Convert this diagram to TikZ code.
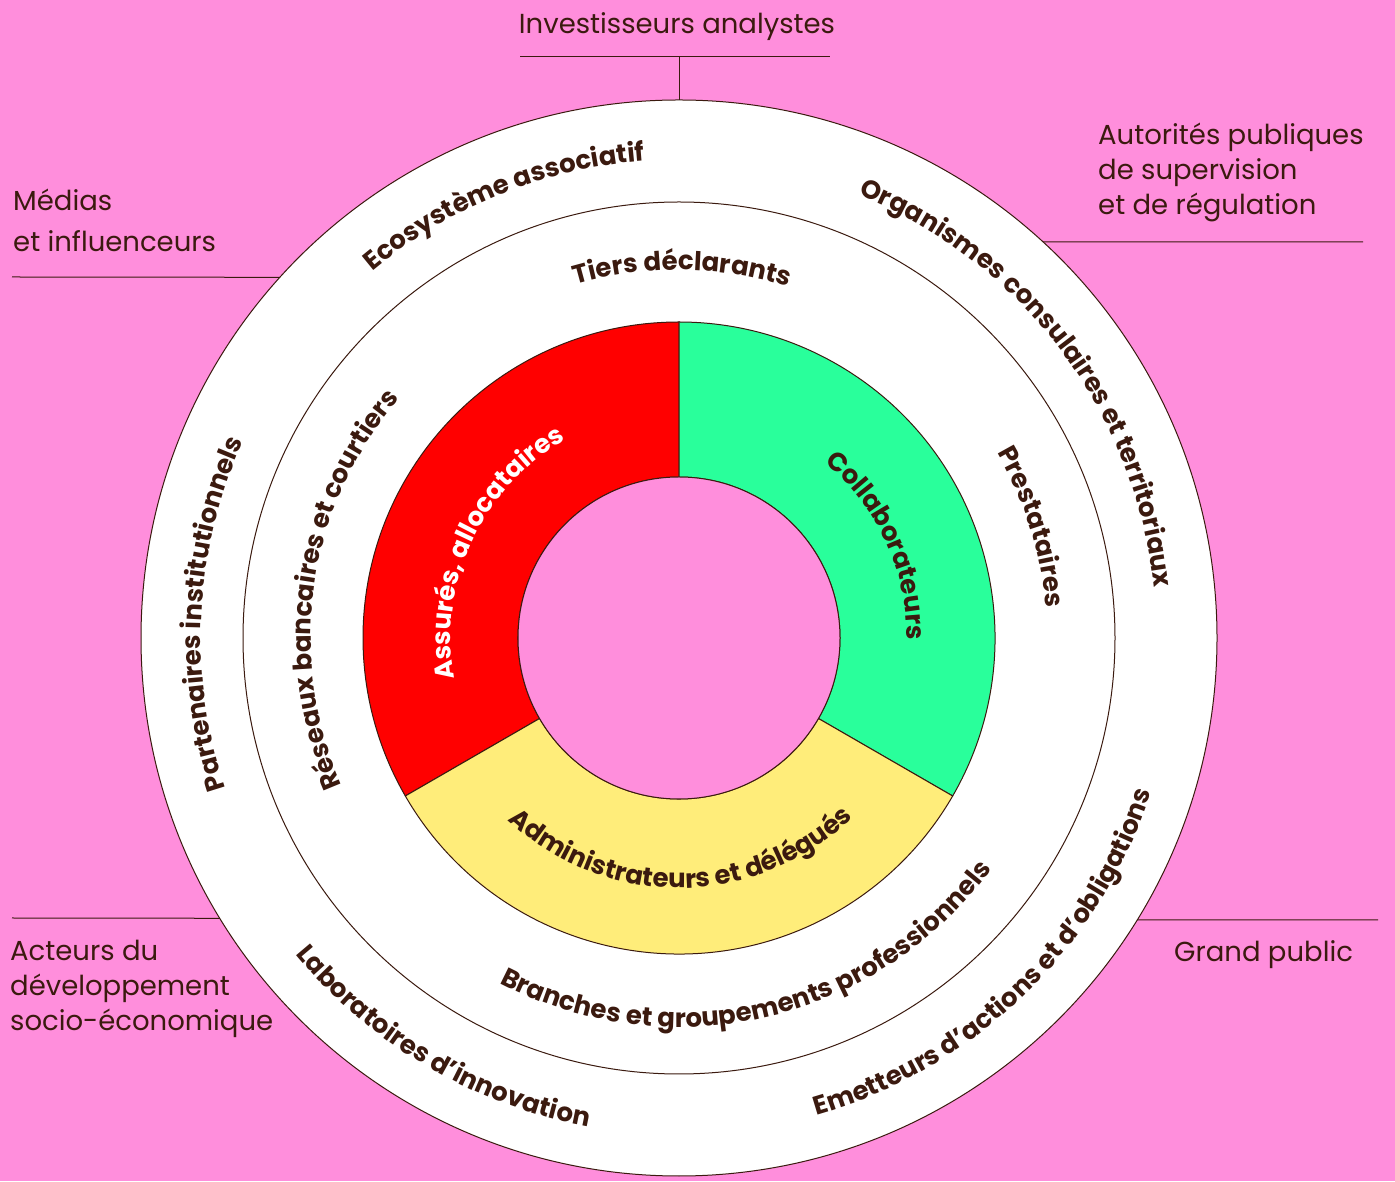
\documentclass[tikz,border=0pt]{standalone}
\usepackage{fontspec}
\setmainfont{Poppins}
\usetikzlibrary{decorations.text}

\definecolor{pinkbg}{RGB}{255,142,220}
\definecolor{ink}{RGB}{59,26,15}
\definecolor{redsec}{RGB}{255,0,0}
\definecolor{greensec}{RGB}{41,255,155}
\definecolor{yellowsec}{RGB}{255,237,122}

\newcommand\ringfont{\fontsize{26}{26}\selectfont\bfseries}

\tikzset{
  ring line/.style={draw=ink, line width=1pt},
  side label/.style={anchor=base west, inner sep=0pt, text=ink, align=left,
    font=\fontsize{27.5}{35}\selectfont},
  ringtext/.style={decorate, decoration={text along path, text align=center,
    text color=ink, text={|\ringfont|#1}}},
  whitetext/.style={decorate, decoration={text along path, text align=center,
    text color=white, text={|\ringfont|#1}}}
}

\begin{document}
\begin{tikzpicture}[x=1pt,y=1pt]
  \useasboundingbox (0,0) rectangle (1395,1181);
  \fill[pinkbg] (0,0) rectangle (1395,1181);
  \coordinate (c) at (679,543);

  % rings
  \draw[ring line, fill=white] (c) circle[radius=538];
  \draw[ring line] (c) circle[radius=436];

  \draw[ring line, fill=redsec] (c) ++(90:316) arc[start angle=90, end angle=210, radius=316]
    -- ++(30:155) arc[start angle=210, end angle=90, radius=161] -- cycle;
  \draw[ring line, fill=greensec] (c) ++(-30:316) arc[start angle=-30, end angle=90, radius=316]
    -- ++(270:155) arc[start angle=90, end angle=-30, radius=161] -- cycle;
  \draw[ring line, fill=yellowsec] (c) ++(210:316) arc[start angle=210, end angle=330, radius=316]
    -- ++(150:155) arc[start angle=330, end angle=210, radius=161] -- cycle;
  \draw[ring line, fill=pinkbg] (c) circle[radius=161];

  % outer ring texts
  \path[ringtext={Ecosystème associatif}] (c) ++(182:478) arc[start angle=182, end angle=42, radius=478];
  \path[ringtext={Organismes consulaires et territoriaux}] (c) ++(107:478) arc[start angle=107, end angle=-33, radius=478];
  \path[ringtext={Partenaires institutionnels}] (c) ++(247:478) arc[start angle=247, end angle=107, radius=478];
  \path[ringtext={Laboratoires d’innovation}] (c) ++(169.5:497) arc[start angle=169.5, end angle=309.5, radius=497];
  \path[ringtext={Emetteurs d’actions et d’obligations}] (c) ++(244:497) arc[start angle=244, end angle=384, radius=497];

  % middle ring texts
  \path[ringtext={Tiers déclarants}] (c) ++(159.5:368) arc[start angle=159.5, end angle=19.5, radius=368];
  \path[ringtext={Prestataires}] (c) ++(87.5:368) arc[start angle=87.5, end angle=-52.5, radius=368];
  \path[ringtext={Réseaux bancaires et courtiers}] (c) ++(241.5:368) arc[start angle=241.5, end angle=101.5, radius=368];
  \path[ringtext={Branches et groupements professionnels}] (c) ++(213:389) arc[start angle=213, end angle=353, radius=389];

  % inner ring texts
  \path[whitetext={{Assurés, allocataires}}] (c) ++(215:228) arc[start angle=215, end angle=95, radius=228];
  \path[ringtext={Collaborateurs}] (c) ++(85:228) arc[start angle=85, end angle=-35, radius=228];
  \path[ringtext={Administrateurs et délégués}] (c) ++(210.5:250) arc[start angle=210.5, end angle=330.5, radius=250];

  % side labels
  \node[side label, anchor=base] (investors) at (677,1147) {Investisseurs analystes};
  \node[side label, font=\fontsize{27.5}{41}\selectfont] (media) at (13,929) {Médias\\et influenceurs};
  \node[side label] (authorities) at (1098,966) {Autorités publiques\\de supervision\\et de régulation};
  \node[side label] (actors) at (10,150) {Acteurs du\\développement\\socio-économique};
  \node[side label] (public) at (1174,219) {Grand public};

  % connectors
  \coordinate (investbar w) at (520,1124);
  \coordinate (investbar e) at (830,1124);
  \coordinate (investjoin) at (679,1124);
  \path (c) ++(90:538) coordinate (investtop);
  \draw[ring line] (investbar w) -- (investbar e);
  \draw[ring line] (investjoin) -- (investtop);

  \coordinate (media end) at (12,904);
  \path (c) ++(137.9:538) coordinate (media top);
  \draw[ring line] (media end) -- (media top);

  \coordinate (authorities end) at (1363,939);
  \path (c) ++(47.4:538) coordinate (authorities top);
  \draw[ring line] (authorities top) -- (authorities end);

  \coordinate (actors end) at (12,263);
  \path (c) ++(211.4:538) coordinate (actors top);
  \draw[ring line] (actors end) -- (actors top);

  \coordinate (public end) at (1378,261);
  \path (c) ++(328.4:538) coordinate (public top);
  \draw[ring line] (public top) -- (public end);
\end{tikzpicture}
\end{document}
